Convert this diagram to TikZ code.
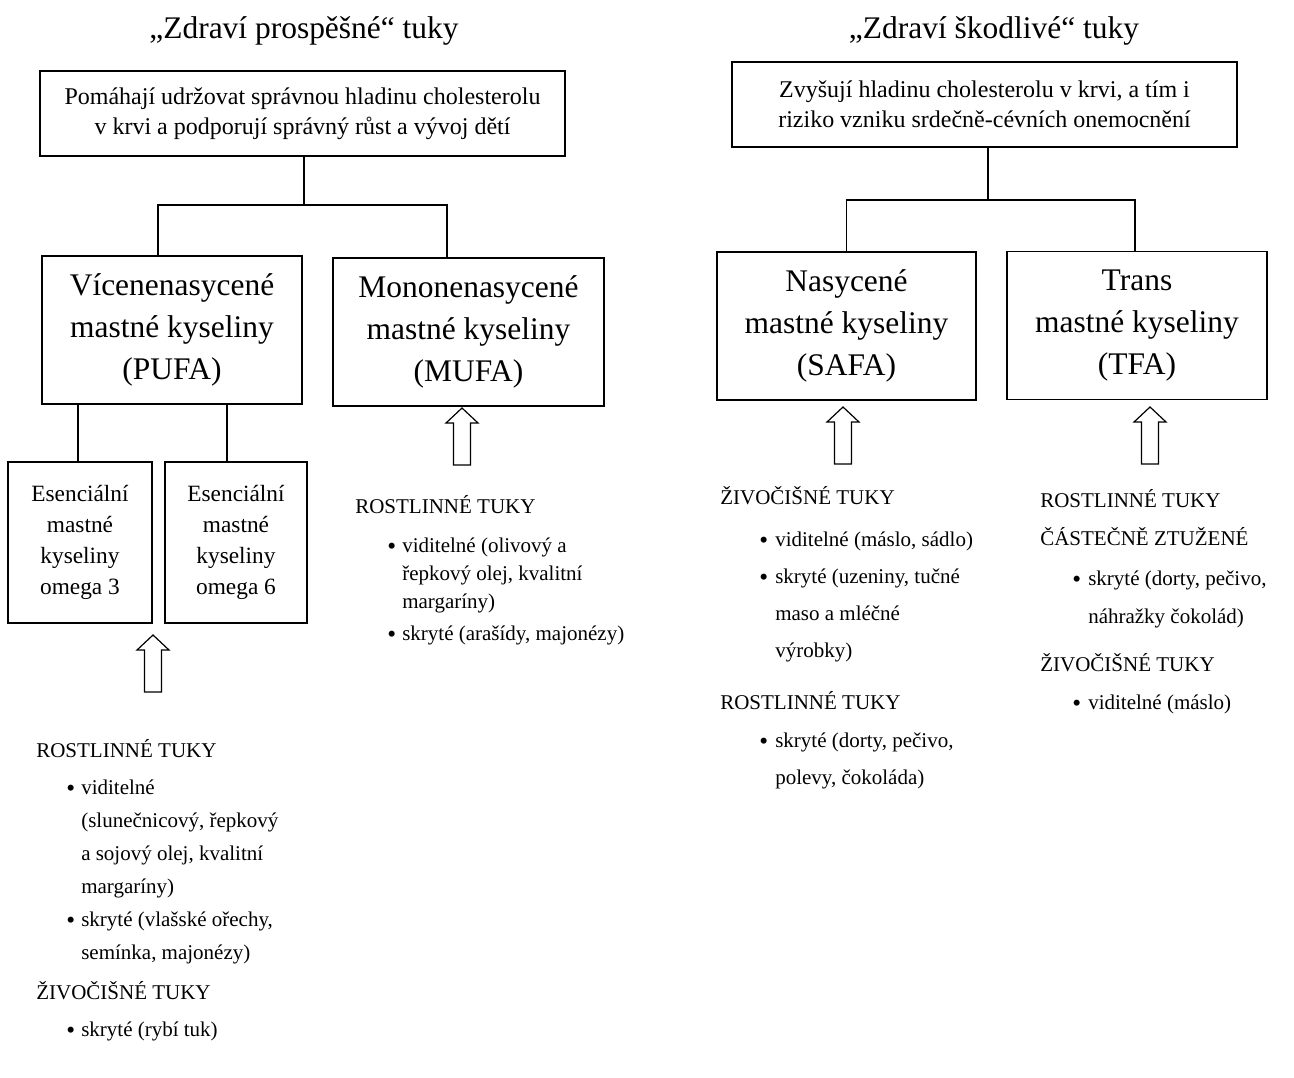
\documentclass[tikz,border=0pt]{standalone}
\usepackage{fontspec}
\setmainfont{Liberation Serif}
\usetikzlibrary{calc}

\newlength{\bulx}
\newlength{\bulw}
\newcommand{\bul}{\hspace*{\bulx}\makebox[\bulw][l]{\raisebox{-0.3ex}{\scalebox{1.2}{\textbullet}}}}
\newcommand{\cnt}{\hspace*{\dimexpr\bulx+\bulw\relax}}

\begin{document}
\begin{tikzpicture}[x=0.75pt, y=-0.75pt,
    title/.style={font=\fontsize{23.6}{28}\selectfont, anchor=base},
    headbox/.style={draw, line width=1.4pt, align=center, inner sep=0pt, minimum height=63.75pt, font=\fontsize{18}{22.5}\selectfont},
    acidbox/.style={draw, line width=1.4pt, align=center, inner sep=0pt, minimum height=111pt, font=\fontsize{23.6}{31.5}\selectfont},
    omegabox/.style={draw, line width=1.4pt, align=center, inner sep=0pt, minimum height=120.75pt, font=\fontsize{17.5}{23.25}\selectfont},
    link/.style={line width=1.1pt},
    hollow/.style={draw, line width=0.9pt, fill=white},
    fatlist/.style={anchor=base west, align=left, inner sep=0pt, font=\fontsize{15.75}{#1}\selectfont}]

    \useasboundingbox (0,0) rectangle (1294,1077);

    % Titles
    \node[title] (titleL) at (304,39) {„Zdraví prospěšné“ tuky};
    \node[title] (titleR) at (994,39) {„Zdraví škodlivé“ tuky};

    % Top boxes
    \node[headbox, minimum width=393.75pt] (topL) at (302.5,113.5)
        {Pomáhají udržovat správnou hladinu cholesterolu\\ v krvi a podporují správný růst a vývoj dětí};
    \node[headbox, minimum width=378.75pt] (topR) at (984.5,104.5)
        {Zvyšují hladinu cholesterolu v krvi, a tím i\\ riziko vzniku srdečně-cévních onemocnění};

    % Fatty acid boxes
    \node[acidbox, minimum width=195pt] (pufa) at (172,330) {Vícenenasycené\\ mastné kyseliny\\ (PUFA)};
    \node[acidbox, minimum width=203.25pt] (mufa) at (468.5,332) {Mononenasycené\\ mastné kyseliny\\ (MUFA)};
    \node[acidbox, minimum width=194.25pt] (safa) at (846.5,326) {Nasycené\\ mastné kyseliny\\ (SAFA)};
    \node[acidbox, minimum width=195pt] (tfa) at (1137,325.5) {Trans\\ mastné kyseliny\\ (TFA)};

    % Essential fatty acids
    \node[omegabox, minimum width=108pt] (omega3) at (80,542.5) {Esenciální\\ mastné\\ kyseliny\\ omega 3};
    \node[omegabox, minimum width=106.5pt] (omega6) at (236,542.5) {Esenciální\\ mastné\\ kyseliny\\ omega 6};

    % Tree lines
    \coordinate (splitL) at (304,205);
    \coordinate (splitR) at (988,200);
    \draw[link] (topL.south -| splitL) -- (splitL);
    \draw[link] ([xshift=-10.5pt]pufa.north) |- (splitL) -| ([xshift=-16pt]mufa.north);
    \draw[link] (topR.south -| splitR) -- (splitR);
    \draw[link] (safa.north) |- (splitR) -| ([xshift=-1.5pt]tfa.north);
    \draw[link] ([xshift=-1.5pt]omega3.north) -- ([xshift=-1.5pt]omega3.north |- pufa.south);
    \draw[link] ([xshift=-6.75pt]omega6.north) -- ([xshift=-6.75pt]omega6.north |- pufa.south);

    % Hollow arrows
    \coordinate (tipO) at (153,635);
    \coordinate (tipM) at (462,408);
    \coordinate (tipS) at (843,407);
    \coordinate (tipT) at (1150,407);
    \foreach \t in {tipO, tipM, tipS, tipT}
        \draw[hollow] (\t) -- ++(16,15) -- ++(-7.5,0) -- ++(0,42) -- ++(-17,0) -- ++(0,-42) -- ++(-7.5,0) -- cycle;

    % Sources (placed by the baseline of the last line)
    \node[fatlist=24.75, execute at begin node={\setlength{\bulx}{22.5pt}\setlength{\bulw}{11.25pt}}] (pufalist) at (36,1036)
        {ROSTLINNÉ TUKY\\[3pt]
         \bul viditelné\\
         \cnt (slunečnicový, řepkový\\
         \cnt a sojový olej, kvalitní\\
         \cnt margaríny)\\
         \bul skryté (vlašské ořechy,\\
         \cnt semínka, majonézy)\\[5.25pt]
         ŽIVOČIŠNÉ TUKY\\[3pt]
         \bul skryté (rybí tuk)};
    \node[fatlist=21, execute at begin node={\setlength{\bulx}{24pt}\setlength{\bulw}{11.25pt}}] (mufalist) at (355,640)
        {ROSTLINNÉ TUKY\\[8.25pt]
         \bul viditelné (olivový a\\
         \cnt řepkový olej, kvalitní\\
         \cnt margaríny)\\[3pt]
         \bul skryté (arašídy, majonézy)};
    \node[fatlist=27.75, execute at begin node={\setlength{\bulx}{29.25pt}\setlength{\bulw}{12pt}}] (safalist) at (720,784)
        {ŽIVOČIŠNÉ TUKY\\[3.75pt]
         \bul viditelné (máslo, sádlo)\\
         \bul skryté (uzeniny, tučné\\
         \cnt maso a mléčné\\
         \cnt výrobky)\\[11.25pt]
         ROSTLINNÉ TUKY\\[0.75pt]
         \bul skryté (dorty, pečivo,\\
         \cnt polevy, čokoláda)};
    \node[fatlist=28.5, execute at begin node={\setlength{\bulx}{24pt}\setlength{\bulw}{12pt}}] (tfalist) at (1040,709)
        {ROSTLINNÉ TUKY\\
         ČÁSTEČNĚ ZTUŽENÉ\\[1pt]
         \bul skryté (dorty, pečivo,\\
         \cnt náhražky čokolád)\\[7.5pt]
         ŽIVOČIŠNÉ TUKY\\
         \bul viditelné (máslo)};

\end{tikzpicture}
\end{document}
